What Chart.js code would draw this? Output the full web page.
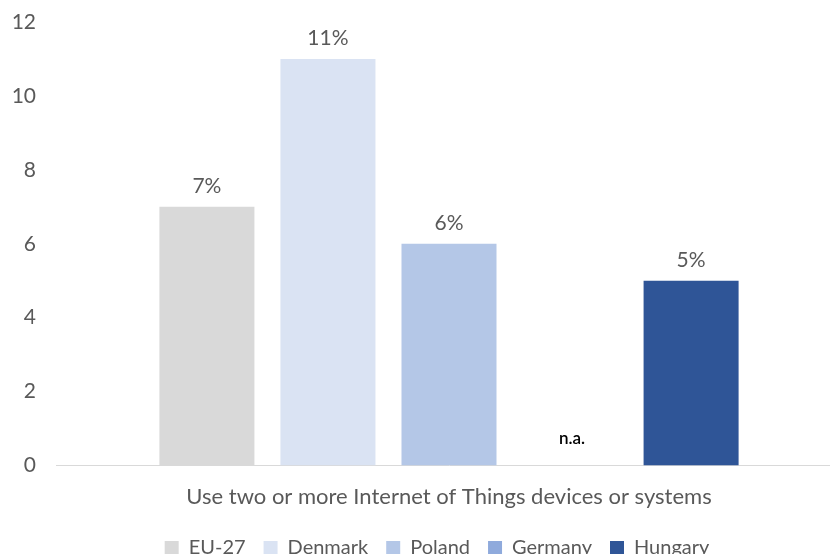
<!DOCTYPE html>
<html>
<head>
<meta charset="utf-8">
<script src="https://cdn.jsdelivr.net/npm/chart.js@4/dist/chart.umd.min.js"></script>
<style>
  html, body { margin: 0; padding: 0; background: #fff; overflow: hidden; }
  #wrap { width: 894px; height: 568px; }
</style>
</head>
<body>
<div id="wrap"><canvas id="iotChart"></canvas></div>
<script>
const categories = ["Use two or more Internet of Things devices or systems"];
const countries = ["EU-27", "Denmark", "Poland", "Germany", "Hungary"];
const shares = [7, 11, 6, null, 5];
const colours = ["#d9d9d9", "#dae3f3", "#b4c7e7", "#8faadc", "#2f5597"];
const yTicks = [0, 2, 4, 6, 8, 10, 12];

const FONT = "Lato, 'Open Sans', sans-serif";

// value labels above each bar, "n.a." where there is no value
const barLabels = {
  id: "barLabels",
  afterDatasetsDraw(chart) {
    const ctx = chart.ctx;
    const y = chart.scales.y;
    ctx.save();
    ctx.textAlign = "center";
    ctx.textBaseline = "middle";
    chart.data.datasets.forEach((ds, i) => {
      const bar = chart.getDatasetMeta(i).data[0];
      const v = ds.data[0];
      if (v === null) {
        ctx.fillStyle = "#000";
        ctx.font = "600 17px " + FONT;
        ctx.fillText("n.a.", bar.x + 2, y.getPixelForValue(0) - 27);
      } else {
        ctx.fillStyle = "#595959";
        ctx.font = "21px " + FONT;
        ctx.fillText(v + "%", bar.x, y.getPixelForValue(v) - 21);
      }
    });
    ctx.restore();
  }
};

// nudge the legend row a little to the right
const legendShift = {
  id: "legendShift",
  afterLayout(chart) {
    chart.legend.left += 10;
    chart.legend.right += 10;
  }
};

new Chart(document.getElementById("iotChart"), {
  type: "bar",
  data: {
    labels: categories,
    datasets: countries.map((name, i) => ({
      label: name,
      data: [shares[i]],
      backgroundColor: colours[i],
      barPercentage: 0.785,
      categoryPercentage: 0.77
    }))
  },
  options: {
    responsive: true,
    maintainAspectRatio: false,
    animation: false,
    layout: { padding: { top: 22, right: 52, left: 12, bottom: 0 } },
    scales: {
      x: {
        grid: { display: false },
        border: { color: "#d9d9d9", width: 1 },
        ticks: { color: "#595959", font: { family: FONT, size: 22 }, padding: 10 }
      },
      y: {
        min: 0,
        max: 12,
        afterBuildTicks: (axis) => { axis.ticks = yTicks.map(v => ({ value: v })); },
        afterFit: (axis) => { axis.width = 44; },
        grid: { display: false, tickLength: 11 },
        border: { display: false },
        ticks: { color: "#595959", font: { family: FONT, size: 21 }, padding: 9 }
      }
    },
    plugins: {
      legend: {
        position: "bottom",
        labels: {
          color: "#595959",
          font: { family: FONT, size: 20 },
          boxWidth: 14,
          boxHeight: 14,
          padding: 18
        }
      },
      tooltip: { enabled: false }
    }
  },
  plugins: [barLabels, legendShift]
});
</script>
</body>
</html>
